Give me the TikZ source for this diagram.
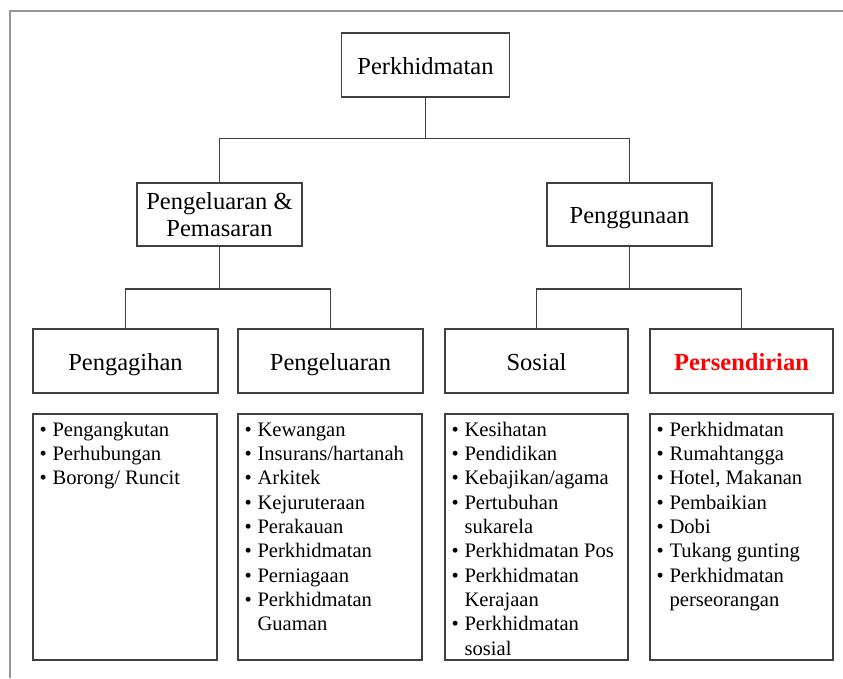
\documentclass[tikz,border=0pt]{standalone}
\usepackage{fontspec}
\setmainfont{Liberation Serif}
\usetikzlibrary{calc}
\definecolor{linec}{RGB}{64,64,64}
\definecolor{framec}{RGB}{150,150,150}
\definecolor{redtxt}{RGB}{255,0,0}
\newcommand\blt{\makebox[14pt][l]{\hspace{1pt}•}}
\newcommand\cnt{\hspace*{14pt}}
\newcommand\listfont{\fontsize{20.6}{24.3}\selectfont}
\begin{document}
\begin{tikzpicture}[x=1pt,y=-1pt,
  box/.style={draw=linec, line width=1.3pt, rectangle, inner sep=0pt, align=center,
    font=\fontsize{24.5}{26.5}\selectfont},
  oneline/.style={text height=18pt, text depth=0pt},
  lvlthree/.style={box, oneline, minimum height=64pt},
  listbox/.style={draw=linec, line width=1.3pt, rectangle, inner sep=0pt, minimum height=246pt},
  listtext/.style={anchor=base west, inner sep=0pt},
  conn/.style={draw=linec, line width=1.3pt},
  ]
\useasboundingbox (0,0) rectangle (843,678);
\draw[framec, line width=2pt] (10,678) -- (10,10.5) -- (843,10.5);

% level 1
\node[box, oneline, minimum width=168pt, minimum height=64pt] (root) at (425.5,65) {Perkhidmatan};
% level 2
\node[box, minimum width=165pt, minimum height=63pt] (pp) at (219.5,214.5) {Pengeluaran \&\\Pemasaran};
\node[box, oneline, minimum width=165pt, minimum height=63pt] (pg) at (629.5,214.5) {Penggunaan};
% level 3
\node[lvlthree, minimum width=185pt] (agih) at (125.5,361) {Pengagihan};
\node[lvlthree, minimum width=185pt] (keluar) at (330.5,361) {Pengeluaran};
\node[lvlthree, minimum width=183pt] (sosial) at (536.5,361) {Sosial};
\node[lvlthree, minimum width=183pt] (diri) at (741.5,361) {\textcolor{redtxt}{\bfseries Persendirian}};
% level 4
\node[listbox, minimum width=184pt] (b1) at (125,537) {};
\node[listbox, minimum width=184pt] (b2) at (330,537) {};
\node[listbox, minimum width=183pt] (b3) at (536.5,537) {};
\node[listbox, minimum width=183pt] (b4) at (741.5,537) {};

\node[listtext] (t1) at ($(b1.north west)+(6,23)$) {\begin{minipage}[t]{178pt}\listfont
\blt Pengangkutan\par
\blt Perhubungan\par
\blt Borong/ Runcit\par
\end{minipage}};
\node[listtext] (t2) at ($(b2.north west)+(6,23)$) {\begin{minipage}[t]{178pt}\listfont
\blt Kewangan\par
\blt Insurans/hartanah\par
\blt Arkitek\par
\blt Kejuruteraan\par
\blt Perakauan\par
\blt Perkhidmatan\par
\blt Perniagaan\par
\blt Perkhidmatan\par
\cnt Guaman\par
\end{minipage}};
\node[listtext] (t3) at ($(b3.north west)+(6,23)$) {\begin{minipage}[t]{178pt}\listfont
\blt Kesihatan\par
\blt Pendidikan\par
\blt Kebajikan/agama\par
\blt Pertubuhan\par
\cnt sukarela\par
\blt Perkhidmatan Pos\par
\blt Perkhidmatan\par
\cnt Kerajaan\par
\blt Perkhidmatan\par
\cnt sosial\par
\end{minipage}};
\node[listtext] (t4) at ($(b4.north west)+(6,23)$) {\begin{minipage}[t]{178pt}\listfont
\blt Perkhidmatan\par
\blt Rumahtangga\par
\blt Hotel, Makanan\par
\blt Pembaikian\par
\blt Dobi\par
\blt Tukang gunting\par
\blt Perkhidmatan\par
\cnt perseorangan\par
\end{minipage}};

% connectors
\coordinate (j1) at (425.5,138.3);
\coordinate (j2) at (219.5,289);
\coordinate (j3) at (629.5,289);
\draw[conn] (root.south) -- (j1);
\draw[conn] (pp.north) |- (j1) -| (pg.north);
\draw[conn] (pp.south) -- (j2);
\draw[conn] (agih.north) |- (j2) -| (keluar.north);
\draw[conn] (pg.south) -- (j3);
\draw[conn] (sosial.north) |- (j3) -| (diri.north);
\end{tikzpicture}
\end{document}
